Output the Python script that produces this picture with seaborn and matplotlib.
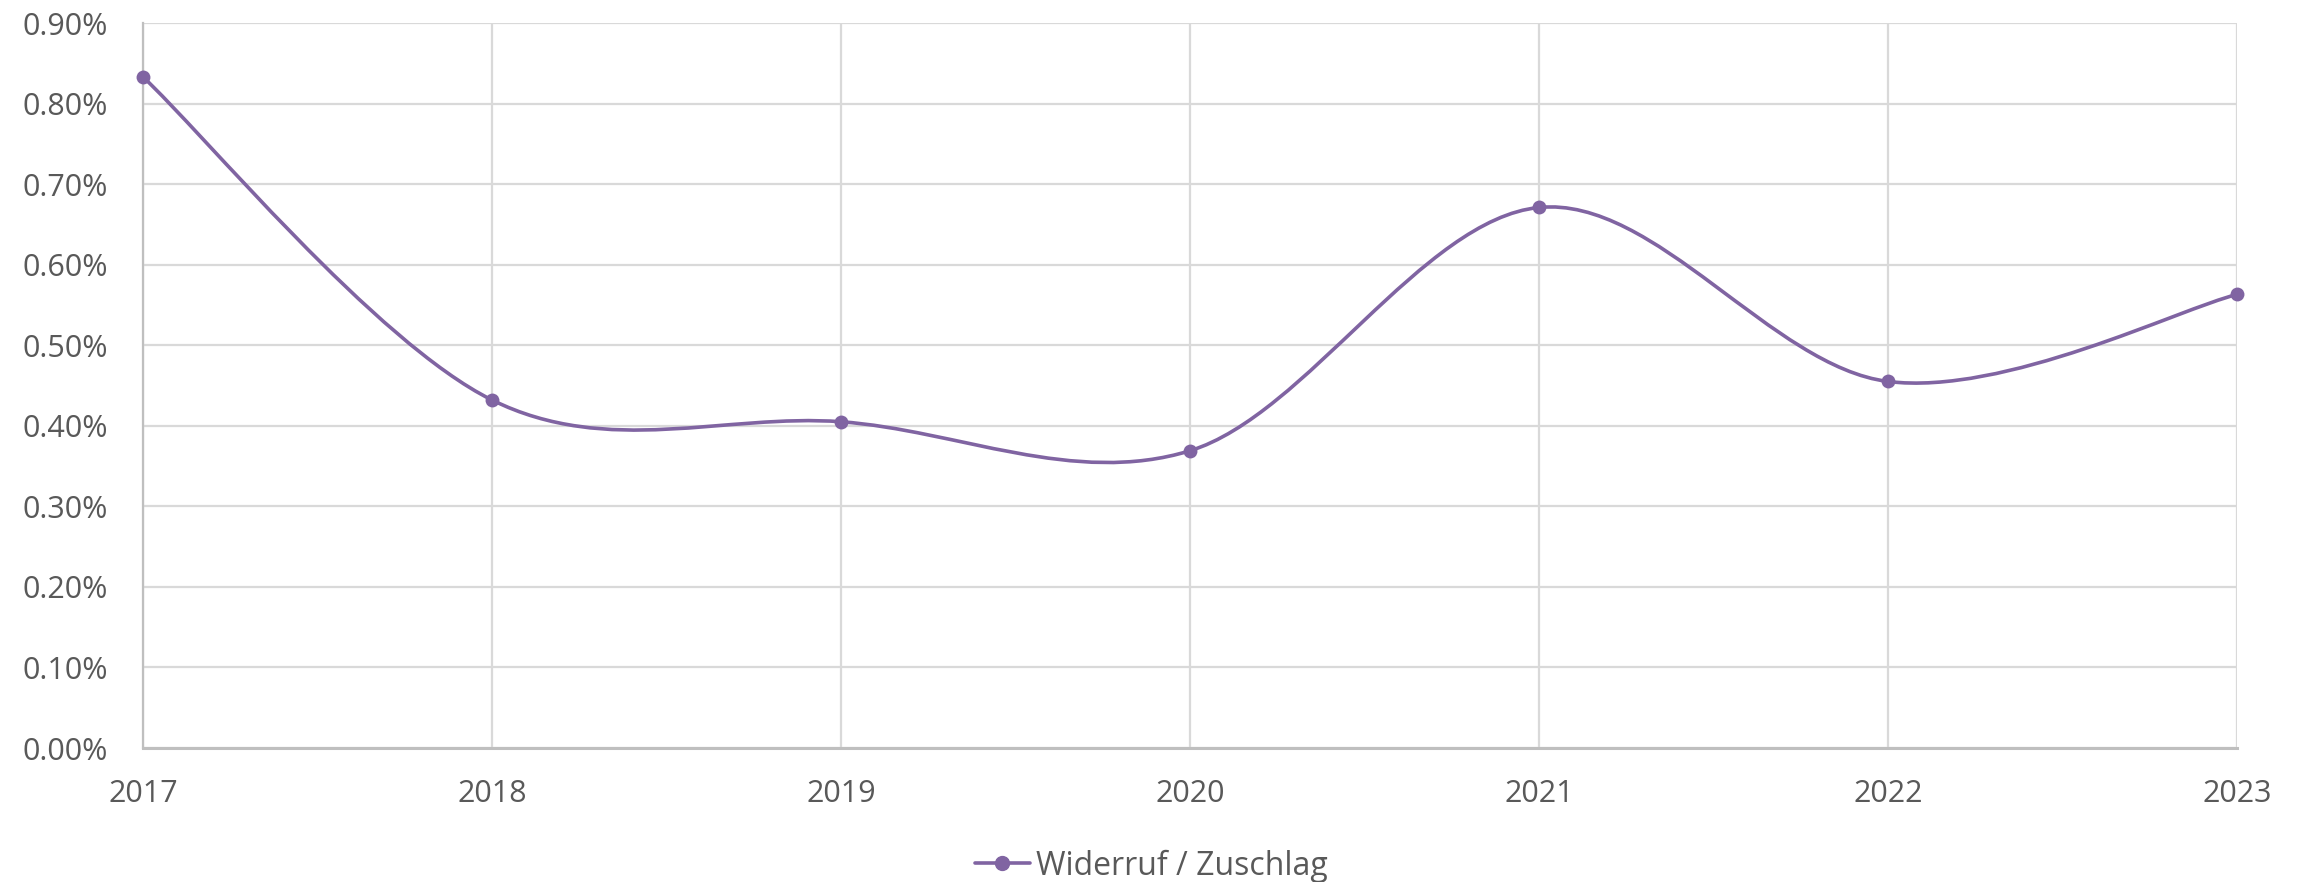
import numpy as np
import pandas as pd
import matplotlib
matplotlib.use("Agg")
import matplotlib.pyplot as plt
import seaborn as sns
from matplotlib.path import Path
from matplotlib.patches import PathPatch
from matplotlib.lines import Line2D
from matplotlib.ticker import PercentFormatter

# ── Data ──────────────────────────────────────────────────────────────────────
YEARS = [2017, 2018, 2019, 2020, 2021, 2022, 2023]
RATE = [0.00833, 0.00432, 0.00405, 0.00369, 0.00671, 0.00455, 0.00563]
SERIES = "Widerruf / Zuschlag"
Y_TICKS = [0.000, 0.001, 0.002, 0.003, 0.004, 0.005, 0.006, 0.007, 0.008, 0.009]

PURPLE = "#8064A2"
GRID = "#D9D9D9"
AXIS = "#BFBFBF"
TEXT = "#595959"
FS = 22

df = pd.DataFrame({"year": YEARS, "rate": RATE})

sns.set_theme(style="white")
plt.rcParams["font.family"] = ["Open Sans", "DejaVu Sans"]

fig = plt.figure(figsize=(23.03, 8.82), dpi=100)
ax = fig.add_axes([143 / 2303, 1 - 748 / 882, (2237 - 143) / 2303, (748 - 23) / 882])

# ── Smoothed line (Excel-style cubic Bezier through the points) ─────────────
pts = df[["year", "rate"]].to_numpy(dtype=float)
n = len(pts)
verts, codes = [tuple(pts[0])], [Path.MOVETO]
for i in range(n - 1):
    p0, p3 = pts[i], pts[i + 1]
    prev = pts[i - 1] if i > 0 else pts[i]
    nxt = pts[i + 2] if i + 2 < n else pts[i + 1]
    c1 = p0 + (p3 - prev) / 6
    c2 = p3 - (nxt - p0) / 6
    verts += [tuple(c1), tuple(c2), tuple(p3)]
    codes += [Path.CURVE4] * 3
ax.add_patch(PathPatch(Path(verts, codes), facecolor="none", edgecolor=PURPLE,
                       lw=2.6, zorder=3, clip_on=False, capstyle="round"))

sns.scatterplot(data=df, x="year", y="rate", ax=ax, color=PURPLE, s=100,
                edgecolor=PURPLE, linewidth=0, zorder=4, clip_on=False, legend=False)

# ── Axes styling ──────────────────────────────────────────────────────────────
ax.set_xlim(YEARS[0], YEARS[-1])
ax.set_ylim(Y_TICKS[0], Y_TICKS[-1])
ax.set_xticks(YEARS)
ax.set_yticks(Y_TICKS)
ax.yaxis.set_major_formatter(PercentFormatter(xmax=1, decimals=2))
ax.set_xlabel("")
ax.set_ylabel("")
ax.grid(True, color=GRID, lw=1.6)
ax.set_axisbelow(True)
for side in ["top", "right"]:
    ax.spines[side].set_visible(False)
ax.spines["left"].set_color(AXIS)
ax.spines["left"].set_linewidth(1.6)
ax.spines["bottom"].set_color(AXIS)
ax.spines["bottom"].set_linewidth(2.2)
ax.tick_params(axis="y", length=0, pad=25, labelsize=FS, labelcolor=TEXT)
ax.tick_params(axis="x", length=0, pad=22, labelsize=FS, labelcolor=TEXT)

handle = Line2D([], [], color=PURPLE, lw=2.6, marker="o", markersize=10)
fig.legend([handle], [SERIES], loc="center", bbox_to_anchor=(0.5, 16 / 882),
           frameon=False, fontsize=23, labelcolor=TEXT, handlelength=1.7,
           handletextpad=0.2, borderpad=0)

fig.savefig("out.png", dpi=100, facecolor="white")
